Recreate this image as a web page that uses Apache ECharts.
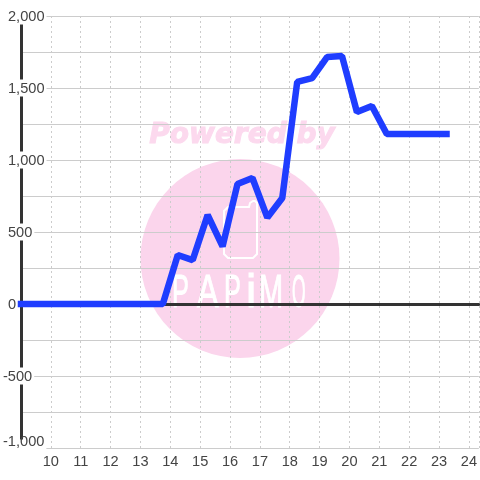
<!DOCTYPE html>
<html><head><meta charset="utf-8">
<style>html,body{margin:0;padding:0;background:#fff}#c{width:480px;height:480px}</style>
<script src="https://cdn.jsdelivr.net/npm/echarts@6/dist/echarts.min.js"></script>
</head><body><div id="c"></div>
<script>
const hours = [9,9.25,9.75,10.25,10.75,11.25,11.75,12.25,12.75,13.25,13.75,14.25,14.75,15.25,15.75,16.25,16.75,17.25,17.75,18.25,18.75,19.25,19.75,20.25,20.75,21.25,21.75,22.25,22.75,23.25];
const values = [0,0,0,0,0,0,0,0,0,0,0,340,305,618,400,833,875,600,736,1542,1569,1715,1722,1333,1375,1180,1180,1180,1180,1180];
const yTickValues = [2000,1500,1000,500,0,-500,-1000];
const xTickValues = [10,11,12,13,14,15,16,17,18,19,20,21,22,23,24];
const watermarkTitle = 'Powered by';
const watermarkLetters = ['P','A','P','i','M','O'];
const textColor = '#444';
const labelSize = 14.6;
const chart = echarts.init(document.getElementById('c'));
const fmtY = v => {
  if (!yTickValues.includes(v)) return '';
  const s = Math.abs(v).toLocaleString('en-US');
  if (v === -1000) return '{m|-' + s + '}';
  return v < 0 ? '{n|-' + s + '}' : '{p|' + s + '}';
};
const labelBase = {fontSize:labelSize,color:textColor,fontFamily:'Liberation Sans',lineHeight:16};
const labelRich = {
  n:{...labelBase},
  m:{...labelBase,padding:[0,0,13,0]},
  p:{...labelBase,padding:[0,0,0,5]}
};
const letterLeft = [172,197,224,246,259,292];
const letterScale = [0.55,0.7,0.55,1,0.63,0.38];
const letterGraphics = watermarkLetters.map((ch,i)=>({
  type:'text', z:-10, x:letterLeft[i], y:271, scaleX:letterScale[i],
  style:{text:ch,fill:'#fff',stroke:'#fff',lineWidth:1,font:'46px "Liberation Sans"',textAlign:'left'}
}));
chart.setOption({
  animation:false,
  backgroundColor:'#fff',
  grid:{left:20,right:0,top:16,bottom:32,containLabel:false},
  graphic:[
    {type:'circle',z:-20,shape:{cx:240,cy:258.5,r:99.5},style:{fill:'#fbd5ec'}},
    {type:'text',z:-20,x:242,y:122,style:{text:watermarkTitle,fill:'#fcd9ee',stroke:'#fcd9ee',lineWidth:1,font:'italic bold 28px "DejaVu Sans"',textAlign:'center'}},
    {type:'polygon',z:-10,shape:{points:[[228,207],[249,207],[250,203],[253,201],[255,201],[257,203],[257,254],[253,258],[228,258],[224,254],[224,211]]},style:{fill:'none',stroke:'#fff',lineWidth:2}},
    ...letterGraphics
  ],
  xAxis:[
    {type:'value',min:9,max:9+460/30,interval:1,position:'bottom',
     axisLine:{show:false,onZero:false},axisTick:{show:false},
     splitLine:{show:true,lineStyle:{color:'#ccc',type:[2,3],width:1}},
     axisLabel:{show:true,margin:6,fontSize:labelSize,color:textColor,fontFamily:'Liberation Sans',
       showMinLabel:false,showMaxLabel:false,hideOverlap:false,lineHeight:16,verticalAlign:'top',
       formatter:v=>xTickValues.includes(v)?String(v):''}},
    {type:'value',min:9,max:9+460/30,interval:1,position:'bottom',
     axisLine:{show:true,onZero:true,lineStyle:{color:'#333',width:3}},
     axisTick:{show:false},axisLabel:{show:false},splitLine:{show:false}}
  ],
  yAxis:{type:'value',min:-1000,max:2000,interval:250,
    axisLine:{show:true,onZero:false,lineStyle:{color:'#333',width:3}},
    axisTick:{show:false},
    splitLine:{show:true,lineStyle:{color:'#ccc',width:1}},
    axisLabel:{show:true,margin:18,align:'left',verticalAlign:'middle',
      backgroundColor:'#fff',padding:[1,2,0,0],
      showMinLabel:true,showMaxLabel:true,hideOverlap:false,
      formatter:fmtY,rich:labelRich}},
  series:[{type:'line',xAxisIndex:0,data:hours.map((h,i)=>[h,values[i]]),
    showSymbol:false,symbol:'none',clip:false,z:5,
    lineStyle:{color:'#1f3dff',width:6.5,cap:'square',join:'bevel'}}]
});
</script></body></html>
